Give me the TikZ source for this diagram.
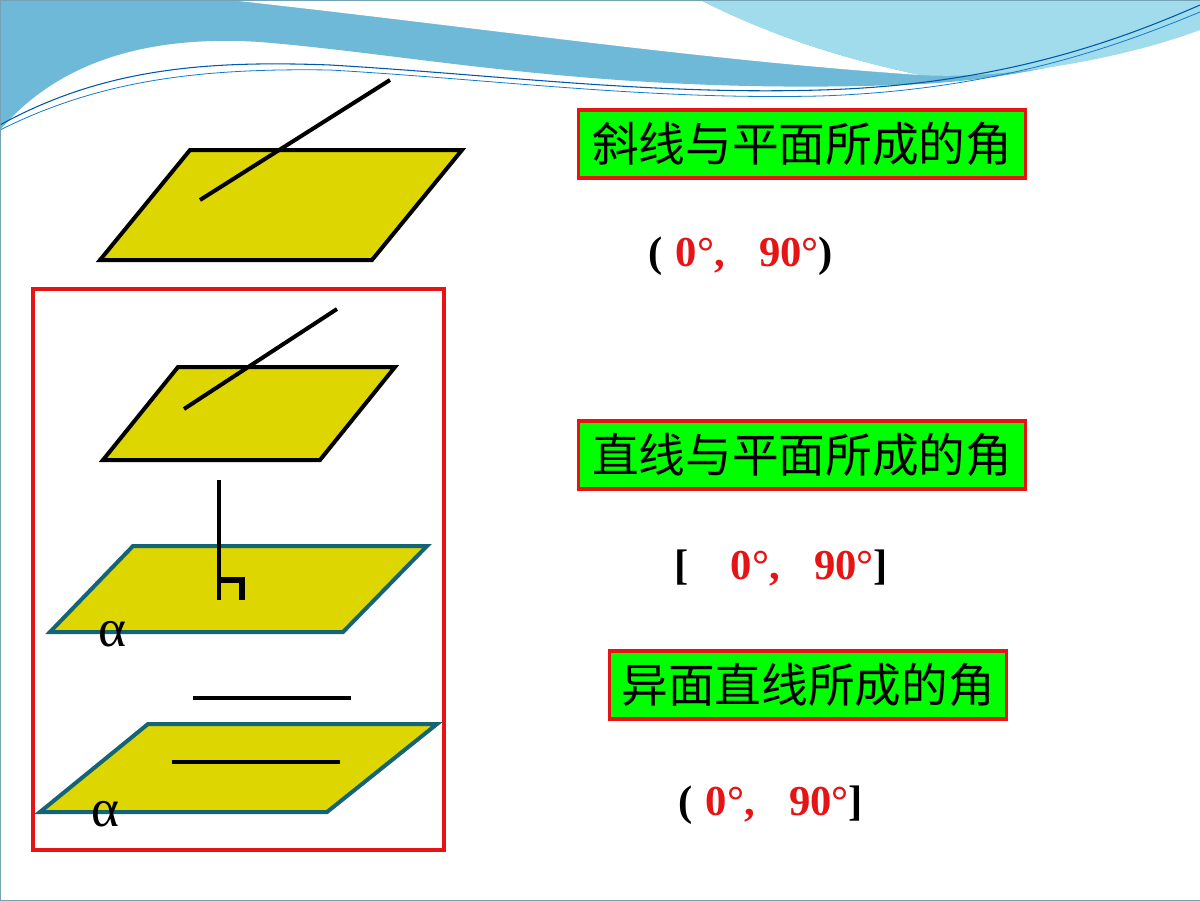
\documentclass[tikz,border=0pt]{standalone}
\usepackage{fontspec}
\setmainfont{Liberation Serif}
\newfontfamily\cjk{Noto Sans CJK SC}
\begin{document}
\begin{tikzpicture}[x=0.75pt,y=-0.75pt,
  plane/.style={fill=yellowfill,draw=black,line width=3pt,line join=miter},
  tplane/.style={fill=yellowfill,draw=tealedge,line width=3pt},
  seg/.style={line width=3pt},
  lab/.style={draw=boxred,line width=2.5pt,fill=boxgreen,inner sep=2pt,font=\cjk\fontsize{35}{37}\selectfont,minimum width=335pt,minimum height=51pt},
  ival/.style={font=\bfseries\fontsize{32}{34}\selectfont},
  alab/.style={font=\fontsize{40}{40}\selectfont}]
\definecolor{yellowfill}{RGB}{221,214,0}
\definecolor{tealedge}{RGB}{20,100,120}
\definecolor{boxred}{RGB}{230,20,20}
\definecolor{boxgreen}{RGB}{0,255,0}
\definecolor{numred}{RGB}{230,20,20}
\definecolor{waveA}{RGB}{110,185,215}
\definecolor{waveB}{RGB}{160,220,235}
\useasboundingbox (0,0) rectangle (1200,900);
\fill[white] (0,0) rectangle (1200,900);
% waves
\fill[waveA] (0,0) -- (0,130) .. controls (60,60) and (150,35) .. (260,42) .. controls (420,55) and (600,95) .. (900,85) .. controls (1050,80) and (1150,40) .. (1200,20) -- (1200,0) -- cycle;
\fill[white] (230,0) -- (700,0) .. controls (780,40) and (850,60) .. (920,75) .. controls (700,60) and (500,30) .. (230,0);
\fill[waveB] (700,0) -- (1200,0) -- (1200,30) .. controls (1120,60) and (1000,80) .. (920,75) .. controls (850,60) and (780,40) .. (700,0);
\draw[teal!70!blue,line width=0.8pt] (0,125) .. controls (100,70) and (200,60) .. (330,65) .. controls (500,75) and (650,95) .. (820,90) .. controls (1000,85) and (1120,40) .. (1200,5);
\draw[cyan!60!blue,line width=0.6pt] (0,130) .. controls (100,80) and (200,68) .. (330,70) .. controls (500,80) and (650,100) .. (820,96) .. controls (1000,90) and (1120,45) .. (1200,12);
\draw[waveA!60!gray,line width=0.6pt] (0,0) rectangle (1200,900);
% plane 1
\draw[plane] (100,260) -- (190,150) -- (462,150) -- (372,260) -- cycle;
\coordinate (l1a) at (200,200); \coordinate (l1b) at (390,80);
\draw[seg] (l1a) -- (l1b);
% frame
\draw[boxred,line width=2.5pt] (33,289) rectangle (444,850);
% plane 2
\draw[plane] (103,460) -- (178,367) -- (395,367) -- (320,460) -- cycle;
\coordinate (l2a) at (184,409); \coordinate (l2b) at (337,309);
\draw[seg] (l2a) -- (l2b);
% plane 3
\draw[tplane] (50,632) -- (133,546) -- (427,546) -- (343,632) -- cycle;
\coordinate (p3a) at (219,480); \coordinate (p3b) at (219,600);
\draw[seg] (p3a) -- (p3b);
\coordinate (r1) at (219,580); \coordinate (r2) at (242,580); \coordinate (r3) at (242,600);
\draw[line width=4pt] (r1) -- (r2) -- (r3);
\node[alab] (a1) at (112,634) {α};
% plane 4
\coordinate (u1) at (193,698); \coordinate (u2) at (351,698);
\draw[seg] (u1) -- (u2);
\draw[tplane] (40,812) -- (148,724) -- (437,724) -- (327,812) -- cycle;
\coordinate (v1) at (172,762); \coordinate (v2) at (340,762);
\draw[seg] (v1) -- (v2);
\node[alab] (a2) at (105,814) {α};
% labels
\node[lab] (b1) at (802,144) {斜线与平面所成的角};
\node[lab] (b2) at (802,455) {直线与平面所成的角};
\node[lab,minimum width=298pt] (b3) at (808,685) {异面直线所成的角};
\node[ival] (i1) at (741,256) {(\hspace{0.3em}\textcolor{numred}{0°,\hspace{0.8em}90°})};
\node[ival] (i2) at (781,568) {[\hspace{1em}\textcolor{numred}{0°,\hspace{0.8em}90°}]};
\node[ival] (i3) at (771,805) {(\hspace{0.3em}\textcolor{numred}{0°,\hspace{0.8em}90°}]};
\end{tikzpicture}
\end{document}
